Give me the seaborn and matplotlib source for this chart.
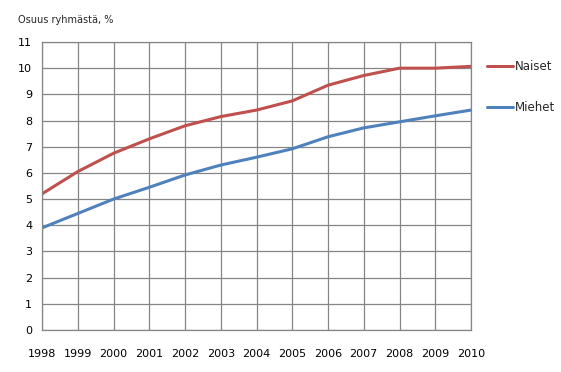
import numpy as np
import pandas as pd
import seaborn as sns
import matplotlib.pyplot as plt
from matplotlib.lines import Line2D

# Osuus ryhmästä, % (luettu kuvasta)
vuodet = [1998, 1999, 2000, 2001, 2002, 2003, 2004, 2005, 2006, 2007, 2008, 2009, 2010]
naiset = [5.2, 6.05, 6.75, 7.3, 7.8, 8.15, 8.4, 8.75, 9.35, 9.72, 10.0, 10.0, 10.07]
miehet = [3.9, 4.45, 5.0, 5.45, 5.92, 6.3, 6.6, 6.92, 7.38, 7.72, 7.95, 8.18, 8.4]
sarjat = ['Naiset', 'Miehet']
varit = ['#C0504D', '#4F81BD']

df = pd.DataFrame({
    'vuosi': vuodet * 2,
    'osuus': naiset + miehet,
    'ryhma': ['Naiset'] * len(vuodet) + ['Miehet'] * len(vuodet),
})

sns.set_style('white')
plt.rcParams['font.family'] = ['DejaVu Sans']

fig = plt.figure(figsize=(5.61, 3.72), dpi=100)
ax = fig.add_axes([42 / 561, 42 / 372, 429 / 561, 288 / 372])

sns.lineplot(data=df, x='vuosi', y='osuus', hue='ryhma', hue_order=sarjat,
             palette=varit, linewidth=2.2, ax=ax, legend=False)

ax.set_xlim(vuodet[0], vuodet[-1])
ax.set_ylim(0, 11)
ax.set_xticks(vuodet)
ax.set_xticklabels([str(v) for v in vuodet])
ax.set_yticks(range(0, 12))
ax.grid(True, color='#868686', linewidth=0.9)
ax.set_axisbelow(True)
for s in ax.spines.values():
    s.set_visible(True)
    s.set_color('#868686')
    s.set_linewidth(0.9)
ax.tick_params(axis='both', labelsize=8, colors='black', length=4, width=0.9,
               direction='out', color='#868686')
ax.tick_params(axis='x', pad=10)
ax.tick_params(axis='y', pad=3)
ax.set_xlabel('')
ax.set_ylabel('')

fig.text(18 / 561, 1 - 20 / 372, 'Osuus ryhmästä, %', fontsize=7, va='center', ha='left')

kahvat = [Line2D([0], [0], color=c, linewidth=2.2) for c in varit]
fig.legend(kahvat, sarjat, loc='upper left', bbox_to_anchor=(482 / 561, 1 - 55 / 372),
           frameon=False, fontsize=8.5, handlelength=2.2, handletextpad=0.2,
           labelspacing=2.4, borderaxespad=0)

fig.savefig('out.png', dpi=100)
